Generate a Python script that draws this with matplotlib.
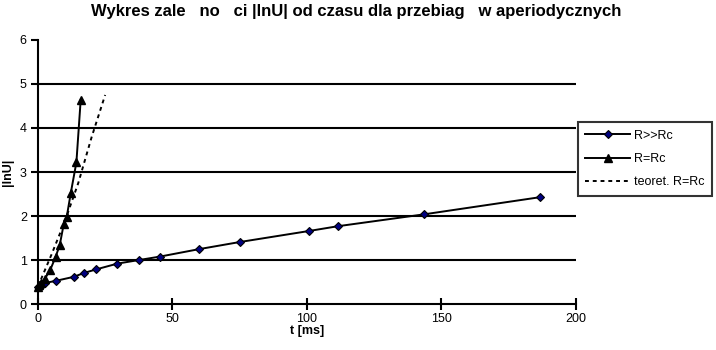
import matplotlib
matplotlib.use("Agg")
import matplotlib.pyplot as plt

plt.rcParams['font.family'] = ['Liberation Sans', 'DejaVu Sans']

# R >> Rc (diamonds)
t_big = [0, 0.6, 1.2, 1.8, 2.6, 6.7, 13.3, 17.2, 21.7, 29.5, 37.4, 45.4,
         60.0, 75.0, 100.7, 111.6, 143.7, 186.9]
y_big = [0.39, 0.41, 0.43, 0.45, 0.48, 0.53, 0.62, 0.71, 0.79, 0.92, 1.00, 1.08,
         1.25, 1.41, 1.66, 1.77, 2.04, 2.43]

# R = Rc (triangles)
t_crit = [0, 0.5, 1.0, 2.6, 4.6, 6.6, 8.1, 9.6, 10.7, 12.2, 14.3, 15.9]
y_crit = [0.40, 0.43, 0.47, 0.58, 0.78, 1.08, 1.34, 1.82, 1.98, 2.52, 3.22, 4.64]

# theoretical R = Rc (dashed)
t_theo = [0, 5, 10, 15, 20, 25]
y_theo = [0.40, 1.12, 1.88, 2.75, 3.80, 4.75]

fig = plt.figure(figsize=(7.16, 3.5), dpi=100)
ax = fig.add_axes([0.053, 0.131, 0.751, 0.755])

for yv in [1, 2, 3, 4, 5]:
    ax.axhline(yv, color='black', lw=1.5, zorder=1)

ax.plot(t_big, y_big, color='black', lw=1.4, marker='D', markersize=4.5,
        markerfacecolor='#000080', markeredgecolor='black', markeredgewidth=0.8,
        label='R>>Rc', clip_on=False, zorder=3)
ax.plot(t_crit, y_crit, color='black', lw=1.4, marker='^', markersize=6,
        markerfacecolor='black', markeredgecolor='black',
        label='R=Rc', clip_on=False, zorder=4)
ax.plot(t_theo, y_theo, color='black', lw=1.4, ls=(0, (2, 2)),
        label='teoret. R=Rc', zorder=3)

ax.set_xlim(0, 200)
ax.set_ylim(0, 6)
ax.set_xticks([0, 50, 100, 150, 200])
ax.set_yticks([0, 1, 2, 3, 4, 5, 6])

for s in ['top', 'right']:
    ax.spines[s].set_visible(False)
for s in ['left', 'bottom']:
    ax.spines[s].set_linewidth(1.5)

ax.tick_params(axis='x', direction='inout', length=9, width=1.5, labelsize=9, pad=2)
ax.tick_params(axis='y', direction='out', length=5, width=1.5, labelsize=9, pad=3)

ax.set_xlabel('t [ms]', fontsize=9, fontweight='bold', labelpad=0)
ax.set_ylabel('|lnU|', fontsize=9, fontweight='bold', labelpad=4)

fig.text(0.497, 0.967, 'Wykres zale   no   ci |lnU| od czasu dla przebiag   w aperiodycznych',
         ha='center', va='center', fontsize=12, fontweight='bold')

leg = ax.legend(loc='upper left', bbox_to_anchor=(0.807, 0.651),
                bbox_transform=fig.transFigure, fontsize=9, frameon=True,
                fancybox=False, edgecolor='black', handlelength=3.6,
                borderpad=0.6, labelspacing=0.9, handletextpad=0.3,
                borderaxespad=0)
leg.get_frame().set_linewidth(1.5)

fig.savefig('out.png', dpi=100)
